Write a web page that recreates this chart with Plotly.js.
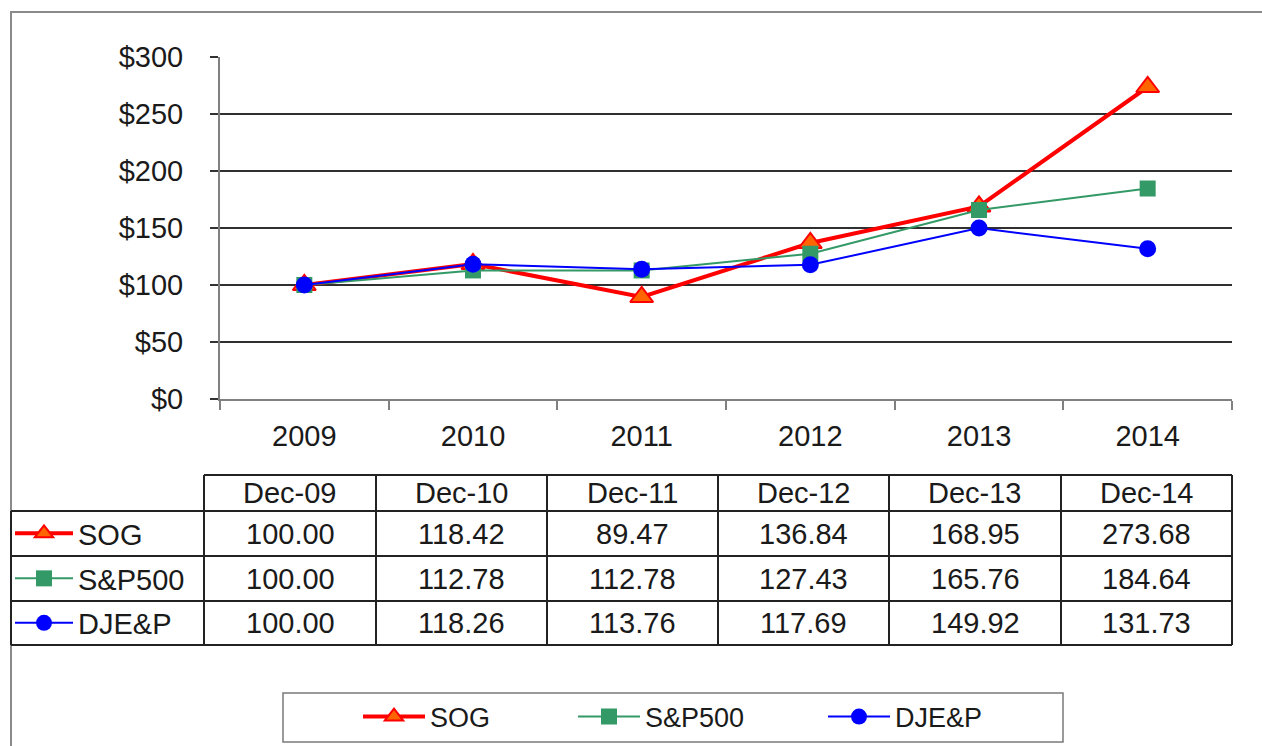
<!DOCTYPE html>
<html><head><meta charset="utf-8">
<script src="https://cdn.plot.ly/plotly-3.0.1.min.js"></script>
<style>html,body{margin:0;padding:0;background:#fff;}#chart{width:1262px;height:746px;}</style>
</head><body><div id="chart"></div>
<script>
// ---- data ----
const years = ['2009','2010','2011','2012','2013','2014'];
const periods = ['Dec-09','Dec-10','Dec-11','Dec-12','Dec-13','Dec-14'];
const seriesNames = ['SOG','S&P500','DJE&P'];
const sog = [100.00,118.42,89.47,136.84,168.95,273.68];
const sp500 = [100.00,112.78,112.78,127.43,165.76,184.64];
const djep = [100.00,118.26,113.76,117.69,149.92,131.73];
const yTickVals = [0,50,100,150,200,250,300];

// ---- layout helpers (pixel -> paper) ----
const W=1262,H=746,L=220,R=30,T=57,B=347;
const pw=W-L-R, ph=H-T-B;
const px = x => (x-L)/pw;
const py = y => (H-B-y)/ph;
const FONT = 'Arial, "Liberation Sans", sans-serif';
const TXT = '#1a1a1a';

const seriesVals = [sog, sp500, djep];
const styles = [
  {line:{color:'#FF0000',width:4}, marker:{symbol:'triangle-up',size:20,color:'#FF6600',line:{color:'#FF0000',width:2}}},
  {line:{color:'#339966',width:2}, marker:{symbol:'square',size:16,color:'#339966',line:{width:0}}},
  {line:{color:'#0000FF',width:2}, marker:{symbol:'circle',size:17,color:'#0000FF',line:{width:0}}}
];
// bottom legend: one legend per series so each key sits where the original has it
const bottomLegendIds = ['legend','legend5','legend6'];
const bottomLegendX = [358,573,823];

const traces = [];
seriesVals.forEach((vals,i)=>{
  traces.push(Object.assign({type:'scatter',mode:'lines+markers',x:years,y:vals,name:seriesNames[i],
    legend:bottomLegendIds[i],cliponaxis:false,hoverinfo:'skip'}, styles[i]));
});
// legend keys in the data table's first column
seriesNames.forEach((n,i)=>{
  traces.push(Object.assign({type:'scatter',mode:'lines+markers',x:[null],y:[null],name:n,
    legend:'legend'+(i+2),hoverinfo:'skip'}, styles[i]));
});

// ---- table geometry ----
const colEdges = [11,204,376,547,718,889,1061,1232];
const rowEdges = [475,511,556,601,645];
const shapes = [];
const gridLine = {color:'#222',width:2};
// outer border
shapes.push({type:'rect',xref:'paper',yref:'paper',x0:px(11),x1:px(1300),y0:py(12),y1:py(780),line:{color:'#8a8a8a',width:2}});
// table horizontal lines
shapes.push({type:'line',xref:'paper',yref:'paper',x0:px(colEdges[1]),x1:px(colEdges[7]),y0:py(rowEdges[0]),y1:py(rowEdges[0]),line:gridLine});
for(let r=1;r<rowEdges.length;r++){
  shapes.push({type:'line',xref:'paper',yref:'paper',x0:px(colEdges[0]),x1:px(colEdges[7]),y0:py(rowEdges[r]),y1:py(rowEdges[r]),line:gridLine});
}
// table vertical lines
shapes.push({type:'line',xref:'paper',yref:'paper',x0:px(colEdges[0]),x1:px(colEdges[0]),y0:py(rowEdges[1]),y1:py(rowEdges[4]),line:gridLine});
for(let c=1;c<colEdges.length;c++){
  shapes.push({type:'line',xref:'paper',yref:'paper',x0:px(colEdges[c]),x1:px(colEdges[c]),y0:py(rowEdges[0]),y1:py(rowEdges[4]),line:gridLine});
}
// bottom legend box
shapes.push({type:'rect',xref:'paper',yref:'paper',x0:px(283),x1:px(1063),y0:py(693),y1:py(742),line:{color:'#7a7a7a',width:1.5}});

const annotations = [];
periods.forEach((p,j)=>{
  annotations.push({xref:'paper',yref:'paper',x:px((colEdges[j+1]+colEdges[j+2])/2),y:py((rowEdges[0]+rowEdges[1])/2),
    text:p,showarrow:false,xanchor:'center',yanchor:'middle',font:{family:FONT,size:29,color:TXT}});
});
seriesVals.forEach((vals,i)=>{
  vals.forEach((v,j)=>{
    annotations.push({xref:'paper',yref:'paper',x:px((colEdges[j+1]+colEdges[j+2])/2),y:py((rowEdges[i+1]+rowEdges[i+2])/2),
      text:v.toFixed(2),showarrow:false,xanchor:'center',yanchor:'middle',font:{family:FONT,size:29,color:TXT}});
  });
});

const tableLegend = (i)=>({x:px(10),xanchor:'left',y:py((rowEdges[i+1]+rowEdges[i+2])/2),yanchor:'middle',
  bgcolor:'rgba(0,0,0,0)',borderwidth:0,itemwidth:58,font:{family:FONT,size:29,color:TXT}});
const bottomLegend = (i)=>({orientation:'h',x:px(bottomLegendX[i]),xanchor:'left',y:py(717),yanchor:'middle',itemwidth:62,
  bgcolor:'rgba(0,0,0,0)',borderwidth:0,font:{family:FONT,size:27,color:TXT}});

const layout = {
  width:W,height:H,margin:{l:L,r:R,t:T,b:B,pad:0,autoexpand:false},
  paper_bgcolor:'#fff',plot_bgcolor:'#fff',
  font:{family:FONT,size:29,color:TXT},
  showlegend:true,
  xaxis:{type:'category',range:[-0.5,5.5],tickson:'boundaries',ticks:'outside',ticklen:9,tickwidth:2,tickcolor:'#808080',
    showline:true,linecolor:'#808080',linewidth:2,showgrid:false,zeroline:false,ticklabelstandoff:10,automargin:false,
    tickfont:{family:FONT,size:29,color:TXT},fixedrange:true},
  yaxis:{range:[0,300],tickvals:yTickVals,ticktext:yTickVals.map(v=>'$'+v),ticks:'outside',ticklen:8,tickwidth:2,tickcolor:'#333',
    showline:true,linecolor:'#808080',linewidth:2,showgrid:true,gridcolor:'#303030',gridwidth:1.8,zeroline:false,automargin:false,
    ticklabelstandoff:21,tickfont:{family:FONT,size:29,color:TXT},fixedrange:true},
  legend:bottomLegend(0),
  legend5:bottomLegend(1),
  legend6:bottomLegend(2),
  legend2:tableLegend(0),
  legend3:tableLegend(1),
  legend4:tableLegend(2),
  shapes:shapes,
  annotations:annotations
};
Plotly.newPlot('chart',traces,layout,{staticPlot:true});
</script></body></html>
